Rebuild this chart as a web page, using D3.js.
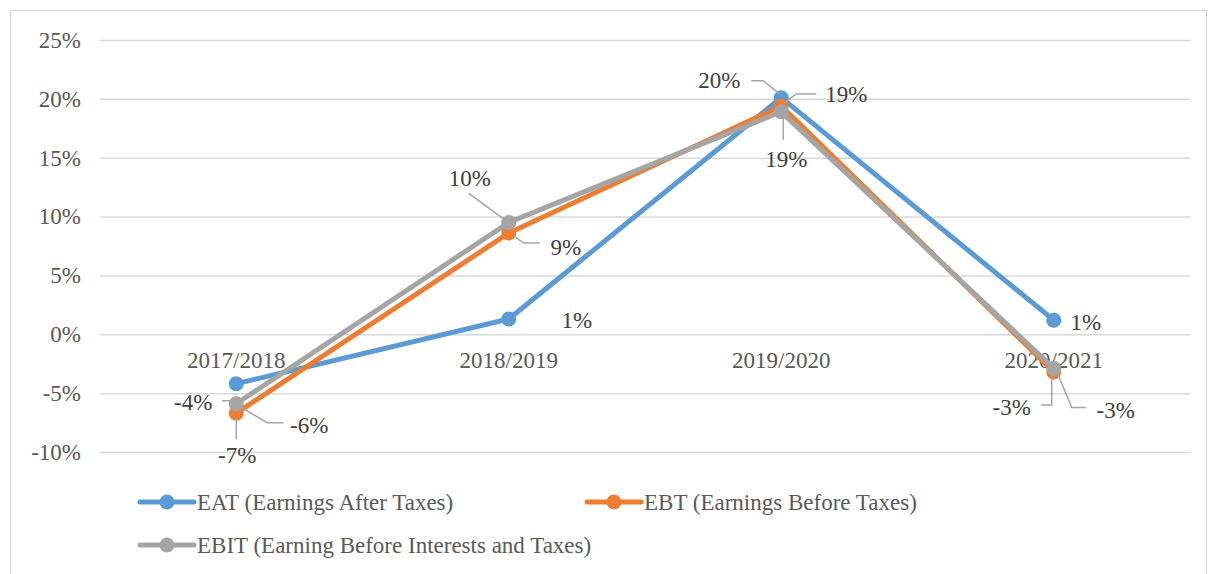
<!DOCTYPE html>
<html>
<head>
<meta charset="utf-8">
<script src="https://cdn.jsdelivr.net/npm/d3@7"></script>
<style>
  body { margin: 0; background: #fff; }
</style>
</head>
<body>
<svg id="chart" width="1209" height="574"></svg>
<script>
// data
var years = ["2017/2018", "2018/2019", "2019/2020", "2020/2021"];
var eat  = [-0.042, 0.013, 0.201, 0.012];
var ebt  = [-0.067, 0.086, 0.194, -0.032];
var ebit = [-0.059, 0.095, 0.189, -0.029];
var yTicks = [-0.10, -0.05, 0, 0.05, 0.10, 0.15, 0.20, 0.25];
var seriesNames = ["EAT (Earnings After Taxes)", "EBT (Earnings Before Taxes)", "EBIT (Earning Before Interests and Taxes)"];

// label placement (text offset + leader path, relative to point)
var labelLayout = [
  [ {t: [-43, 19], p: [[-14, 17], [0, 17]]},
    {t: [68, 2], p: null},
    {t: [-62, -17], p: [[-30, -17], [-18, -17], [-2, -4]]},
    {t: [32, 2], p: null} ],
  [ {t: [1, 42], p: [[0, 6], [0, 26]]},
    {t: [57, 14], p: [[5, 3], [15, 10], [31, 10]]},
    {t: [65, -11], p: [[3, -3], [15, -12], [35, -12]]},
    {t: [-42, 36], p: [[-2, 3], [-2, 33], [-13, 33]]} ],
  [ {t: [73, 22], p: [[4, 3], [31, 19], [47, 19]]},
    {t: [-39, -44], p: [[-3, -2], [-40, -29]]},
    {t: [5, 48], p: [[2, 3], [2, 28]]},
    {t: [62, 42], p: [[3, 3], [18, 39], [32, 39]]} ]
];

var colors = ["#5b9bd5", "#ed7d31", "#a5a5a5"];
var series = [eat, ebt, ebit];
var FONT = "'Liberation Serif', 'Times New Roman', serif";

var svg = d3.select("#chart");

// frame
svg.append("rect")
  .attr("x", 10.5).attr("y", 10.5)
  .attr("width", 1196).attr("height", 575)
  .attr("fill", "none")
  .attr("stroke", "#d9d9d9")
  .attr("stroke-width", 1.2);

var x = d3.scaleBand().domain(years).range([100, 1190]).padding(0);
var y = d3.scaleLinear().domain([-0.10, 0.25]).range([452, 40]);

function pct(v) { return Math.round(v * 100) + "%"; }

// y axis + gridlines
var yAxis = d3.axisLeft(y)
  .tickValues(yTicks)
  .tickSize(-1090)
  .tickPadding(19)
  .tickFormat(pct);

var gy = svg.append("g")
  .attr("transform", "translate(100,0)")
  .call(yAxis);
gy.select(".domain").remove();
gy.selectAll(".tick line").attr("stroke", "#d9d9d9").attr("stroke-width", 1.5);
gy.selectAll(".tick text")
  .attr("fill", "#595959")
  .style("font-family", FONT)
  .style("font-size", "23px");

// category labels sit on the zero line
svg.append("g").selectAll("text")
  .data(years)
  .enter().append("text")
  .attr("x", function(d) { return x(d) + x.bandwidth() / 2; })
  .attr("y", y(0) + 34)
  .attr("text-anchor", "middle")
  .attr("fill", "#595959")
  .style("font-family", FONT)
  .style("font-size", "23px")
  .text(function(d) { return d; });

var line = d3.line()
  .x(function(d, i) { return x(years[i]) + x.bandwidth() / 2; })
  .y(function(d) { return y(d); });

series.forEach(function(vals, s) {
  svg.append("path")
    .datum(vals)
    .attr("d", line)
    .attr("fill", "none")
    .attr("stroke", colors[s])
    .attr("stroke-width", 5)
    .attr("stroke-linejoin", "round");
  svg.append("g").selectAll("circle")
    .data(vals)
    .enter().append("circle")
    .attr("cx", function(d, i) { return x(years[i]) + x.bandwidth() / 2; })
    .attr("cy", function(d) { return y(d); })
    .attr("r", 7.5)
    .attr("fill", colors[s]);
});

// data labels with leader lines
series.forEach(function(vals, s) {
  vals.forEach(function(v, i) {
    var px = x(years[i]) + x.bandwidth() / 2;
    var py = y(v);
    var lay = labelLayout[s][i];
    if (lay.p) {
      svg.append("polyline")
        .attr("points", lay.p.map(function(q) { return (px + q[0]) + "," + (py + q[1]); }).join(" "))
        .attr("fill", "none")
        .attr("stroke", "#a5a5a5")
        .attr("stroke-width", 1.5);
    }
    svg.append("text")
      .attr("x", px + lay.t[0])
      .attr("y", py + lay.t[1])
      .attr("text-anchor", "middle")
      .attr("dominant-baseline", "central")
      .attr("fill", "#404040")
      .style("font-family", FONT)
      .style("font-size", "23px")
      .text(pct(v));
  });
});

// legend
var legendPos = [[140, 502], [587, 502], [140, 545]];
seriesNames.forEach(function(name, s) {
  var lx = legendPos[s][0], ly = legendPos[s][1];
  var g = svg.append("g").attr("transform", "translate(" + lx + "," + ly + ")");
  g.append("line")
    .attr("x1", 0).attr("x2", 54)
    .attr("stroke", colors[s]).attr("stroke-width", 5)
    .attr("stroke-linecap", "round");
  g.append("circle").attr("cx", 27).attr("r", 7.5).attr("fill", colors[s]);
  g.append("text")
    .attr("x", 57)
    .attr("dominant-baseline", "central")
    .attr("fill", "#595959")
    .style("font-family", FONT)
    .style("font-size", "23px")
    .text(name);
});
</script>
</body>
</html>
